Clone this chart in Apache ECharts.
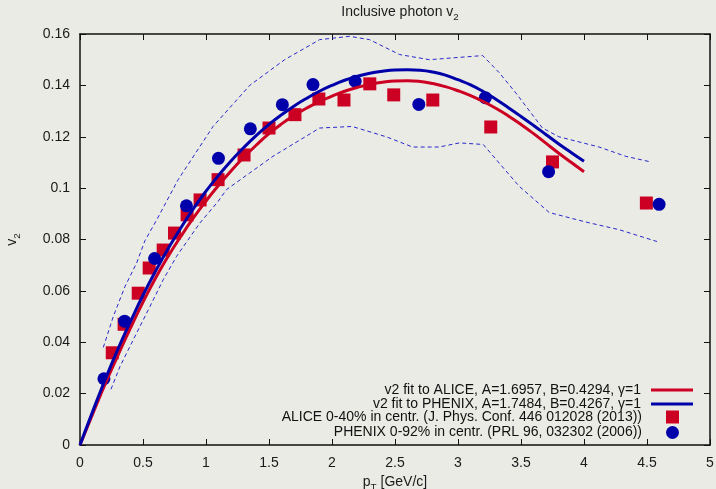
<!DOCTYPE html>
<html>
<head>
<meta charset="utf-8">
<script src="https://cdn.jsdelivr.net/npm/echarts@6/dist/echarts.min.js"></script>
<style>
  html, body { margin: 0; padding: 0; background: #ebebe6; }
  #chart { width: 716px; height: 489px; }
</style>
</head>
<body>
<div id="chart"></div>
<script>
// ALICE 0-40% (squares)
const aliceX = [0.256, 0.35, 0.462, 0.549, 0.66, 0.75, 0.85, 0.953, 1.096, 1.302, 1.5, 1.706, 1.896, 2.095, 2.3, 2.49, 2.8, 3.26, 3.75, 4.495]
const aliceY = [0.0359, 0.047, 0.0591, 0.0689, 0.0759, 0.0825, 0.0896, 0.0954, 0.1033, 0.1129, 0.1234, 0.1286, 0.1347, 0.1343, 0.1406, 0.1363, 0.1343, 0.1238, 0.1102, 0.0942]

// PHENIX 0-92% (circles)
const phenixX = [0.19, 0.354, 0.592, 0.845, 1.099, 1.352, 1.606, 1.849, 2.184, 2.689, 3.217, 3.719, 4.596]
const phenixY = [0.0258, 0.0482, 0.0726, 0.0931, 0.1116, 0.1231, 0.1325, 0.1403, 0.1416, 0.1326, 0.1352, 0.1064, 0.0937]

// fit curves, every 0.1 GeV/c
const fitX = [0, 0.1, 0.2, 0.3, 0.4, 0.5, 0.6, 0.7, 0.8, 0.9, 1.0, 1.1, 1.2, 1.3, 1.4, 1.5, 1.6, 1.7, 1.8, 1.9, 2.0,
  2.1, 2.2, 2.3, 2.4, 2.5, 2.6, 2.7, 2.8, 2.9, 3.0, 3.1, 3.2, 3.3, 3.4, 3.5, 3.6, 3.7, 3.8, 3.9, 4.0]
const aliceFit = [0, 0.0120, 0.0238, 0.0348, 0.0455, 0.0556, 0.0650, 0.0735, 0.0812, 0.0884, 0.0950, 0.1011, 0.1068, 0.1120, 0.1168, 0.1212,
  0.1250, 0.1283, 0.1312, 0.1337, 0.1358, 0.1377, 0.1392, 0.1404, 0.1412, 0.1417, 0.1418, 0.1415, 0.1407, 0.1395, 0.1379,
  0.1360, 0.1337, 0.1311, 0.1281, 0.1248, 0.1212, 0.1174, 0.1136, 0.1100, 0.1064]
const phenixFit = [0, 0.0130, 0.0255, 0.0372, 0.0480, 0.0583, 0.0677, 0.0765, 0.0845, 0.0920, 0.0988, 0.1050, 0.1107, 0.1158, 0.1205, 0.1248,
  0.1286, 0.1320, 0.1350, 0.1377, 0.1400, 0.1420, 0.1435, 0.1447, 0.1455, 0.1460, 0.1461, 0.1459, 0.1452, 0.1440, 0.1422,
  0.1402, 0.1376, 0.1346, 0.1313, 0.1279, 0.1244, 0.1208, 0.1172, 0.1138, 0.1105]

// dashed uncertainty band
const upperX = [0.185, 0.264, 0.357, 0.449, 0.515, 0.607, 0.779, 1.056, 1.347, 1.624, 1.902, 2.14, 2.298, 2.536, 2.773, 3.196, 3.328, 3.46, 3.67, 3.8, 4.12, 4.33, 4.53]
const upperY = [0.038, 0.050, 0.0617, 0.0708, 0.0795, 0.0875, 0.1033, 0.124, 0.140, 0.150, 0.1578, 0.1591, 0.1578, 0.152, 0.150, 0.1516, 0.1449, 0.137, 0.1234, 0.120, 0.116, 0.1124, 0.1102]
const lowerX = [0.246, 0.317, 0.422, 0.555, 0.66, 0.766, 0.951, 1.096, 1.162, 1.347, 1.532, 1.902, 2.16, 2.43, 2.64, 2.85, 3.01, 3.2, 3.486, 3.724, 4.015, 4.28, 4.58]
const lowerY = [0.0217, 0.0305, 0.0409, 0.0539, 0.0643, 0.0734, 0.0864, 0.0948, 0.0994, 0.1059, 0.1124, 0.1234, 0.124, 0.120, 0.116, 0.116, 0.1176, 0.117, 0.1007, 0.0905, 0.0868, 0.0838, 0.0792]

const legendNames = [
  'v2 fit to ALICE, A=1.6957, B=0.4294, γ=1',
  'v2 fit to PHENIX, A=1.7484, B=0.4267, γ=1',
  'ALICE 0-40% in centr. (J. Phys. Conf. 446 012028 (2013))',
  'PHENIX 0-92% in centr. (PRL 96, 032302 (2006))'
]

function zip(xs, ys) {
  return xs.map((x, i) => [x, ys[i]])
}

const red = '#cc0022'
const blue = '#0000aa'
const ink = '#1a1a1a'
const font = 'Liberation Sans, Arial, sans-serif'

const chart = echarts.init(document.getElementById('chart'))

const axisLine = { show: true, onZero: false, lineStyle: { color: '#111', width: 1.5 } }
const axisTick = { show: true, inside: true, length: 6, lineStyle: { color: '#111', width: 1 } }
const labelStyle = { fontSize: 14, color: ink, fontFamily: font }

const bandStyle = { color: '#2828cc', width: 1, type: [4, 3] }

// text with a subscript part
function subRich(size) {
  return {
    a: { fontSize: size, color: ink, fontFamily: font, fontWeight: 'normal', lineHeight: 16, verticalAlign: 'bottom' },
    b: { fontSize: size * 0.7, color: ink, fontFamily: font, fontWeight: 'normal', lineHeight: 11, verticalAlign: 'bottom', padding: [0, 0, -3, 0] }
  }
}

const legendText = { fontSize: 14, color: '#111', fontFamily: font, lineHeight: 14 }

chart.setOption({
  backgroundColor: '#ebebe6',
  animation: false,
  textStyle: { fontFamily: font },
  title: {
    text: '{a|Inclusive photon v}{b|2}',
    left: 395,
    top: -2,
    textAlign: 'center',
    textStyle: { fontWeight: 'normal', rich: subRich(14) }
  },
  grid: { left: 80, right: 6, top: 34, bottom: 44, outerBoundsMode: 'none' },
  legend: [{
    data: [
      { name: legendNames[0], icon: 'rect' },
      { name: legendNames[1], icon: 'rect' }
    ],
    orient: 'vertical',
    align: 'right',
    right: 23,
    top: 383,
    padding: 0,
    itemWidth: 42,
    itemHeight: 3,
    itemGap: 0,
    textStyle: Object.assign({ padding: [0, 5, 0, 0] }, legendText)
  }, {
    data: [
      { name: legendNames[2], icon: 'rect' },
      { name: legendNames[3], icon: 'circle' }
    ],
    orient: 'vertical',
    align: 'right',
    right: 37,
    top: 410,
    padding: 0,
    itemWidth: 13,
    itemHeight: 13,
    itemGap: 1.5,
    textStyle: Object.assign({ padding: [0, 19, 0, 0] }, legendText)
  }],
  xAxis: [{
    type: 'value',
    min: 0,
    max: 5,
    interval: 0.5,
    position: 'bottom',
    axisLine: axisLine,
    axisTick: axisTick,
    splitLine: { show: false },
    axisLabel: Object.assign({ margin: 11 }, labelStyle),
    name: '{a|p}{b|T}{a| [GeV/c]}',
    nameLocation: 'middle',
    nameGap: 26,
    nameTextStyle: { rich: subRich(14) }
  }, {
    type: 'value',
    min: 0,
    max: 5,
    interval: 0.5,
    position: 'top',
    axisLine: axisLine,
    axisTick: axisTick,
    splitLine: { show: false },
    axisLabel: { show: false }
  }],
  yAxis: [{
    type: 'value',
    min: 0,
    max: 0.16,
    interval: 0.02,
    position: 'left',
    axisLine: axisLine,
    axisTick: axisTick,
    splitLine: { show: false },
    axisLabel: Object.assign({ margin: 10 }, labelStyle),
    name: '{a|v}{b|2}',
    nameLocation: 'middle',
    nameGap: 61,
    nameTextStyle: { rich: subRich(14) }
  }, {
    type: 'value',
    min: 0,
    max: 0.16,
    interval: 0.02,
    position: 'right',
    axisLine: axisLine,
    axisTick: axisTick,
    splitLine: { show: false },
    axisLabel: { show: false }
  }],
  series: [
    {
      name: 'upper band',
      type: 'line',
      data: zip(upperX, upperY),
      showSymbol: false,
      symbol: 'none',
      lineStyle: bandStyle,
      silent: true
    },
    {
      name: 'lower band',
      type: 'line',
      data: zip(lowerX, lowerY),
      showSymbol: false,
      symbol: 'none',
      lineStyle: bandStyle,
      silent: true
    },
    {
      name: legendNames[0],
      type: 'line',
      data: zip(fitX, aliceFit),
      smooth: true,
      showSymbol: false,
      symbol: 'none',
      itemStyle: { color: red },
      lineStyle: { color: red, width: 3 }
    },
    {
      name: legendNames[1],
      type: 'line',
      data: zip(fitX, phenixFit),
      smooth: true,
      showSymbol: false,
      symbol: 'none',
      itemStyle: { color: blue },
      lineStyle: { color: blue, width: 3 }
    },
    {
      name: legendNames[2],
      type: 'scatter',
      data: zip(aliceX, aliceY),
      symbol: 'rect',
      symbolSize: 13,
      itemStyle: { color: red, opacity: 1 }
    },
    {
      name: legendNames[3],
      type: 'scatter',
      data: zip(phenixX, phenixY),
      symbol: 'circle',
      symbolSize: 13,
      itemStyle: { color: blue, opacity: 1 }
    }
  ]
})
</script>
</body>
</html>
